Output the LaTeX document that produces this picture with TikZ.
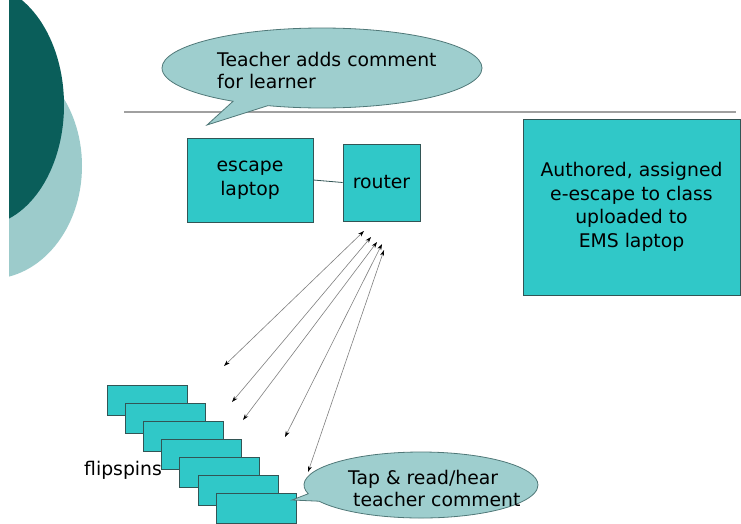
\documentclass[tikz,border=0pt]{standalone}
\usepackage{fontspec}
\setmainfont{DejaVu Sans}
\usetikzlibrary{shapes.callouts,arrows.meta}
\definecolor{darkteal}{RGB}{10,94,90}
\definecolor{lightteal}{RGB}{156,203,203}
\definecolor{boxfill}{RGB}{48,200,200}
\definecolor{boxline}{RGB}{50,85,85}
\definecolor{callfill}{RGB}{158,206,206}
\definecolor{callline}{RGB}{80,120,120}
\definecolor{rule}{RGB}{160,160,160}
\definecolor{linkgray}{RGB}{128,128,128}
\tikzset{
  box/.style={draw=boxline,fill=boxfill,line width=0.8pt,inner sep=0pt,align=center,font=\fontsize{18.8}{23.5}\selectfont},
  flip/.style={draw=boxline,fill=boxfill,line width=0.8pt,minimum width=80pt,minimum height=30pt,inner sep=0pt},
  bubble/.style={ellipse callout,draw=callline,fill=callfill,line width=0.8pt,inner sep=0pt,callout pointer arc=14},
  txt/.style={font=\fontsize{18.8}{22}\selectfont,inner sep=0pt},
  link/.style={draw=linkgray,line width=0.6pt,{Stealth[length=6pt,width=4pt,black]}-{Stealth[length=6pt,width=4pt,black]}}
}
\begin{document}
\begin{tikzpicture}[x=1pt,y=-1pt]
\useasboundingbox (0,0) rectangle (741,523);
\fill[white] (0,0) rectangle (741,523);
% decorative circles
\begin{scope}
\clip (9,0) rectangle (200,523);
\fill[lightteal] (-10,166) ellipse [x radius=92, y radius=113];
\fill[darkteal] (-20,105) ellipse [x radius=84, y radius=121];
\end{scope}
% rule
\coordinate (r1) at (124,112);
\coordinate (r2) at (736,112);
\draw[rule,line width=1.5pt] (r1) -- (r2);
% top callout
\node[bubble,minimum width=320pt,minimum height=80pt,callout absolute pointer={(207,125)}] (call1) at (322,68) {};
\node[txt,align=left,anchor=west] (call1t) at (217,70) {Teacher adds comment\\for learner};
% boxes
\node[box,minimum width=126pt,minimum height=84pt] (laptop) at (250,180) {escape\\laptop};
\node[box,minimum width=77pt,minimum height=77pt] (router) at (381.5,182.5) {router};
\node[box,minimum width=217pt,minimum height=176pt] (ems) at (631.5,207) {Authored, assigned\\e-escape to class\\uploaded to\\EMS laptop};
\draw[boxline,line width=0.8pt] (laptop.east) -- (router.west);
% flipspins
\foreach \i in {0,...,6}{
  \node[flip] (f\i) at ({147+18.2*\i},{400+18*\i}) {};
}
\node[txt,anchor=west] (fliplabel) at (84,470) {flipspins};
% arrows
\coordinate (a1) at (364,231); \coordinate (b1) at (224,366);
\coordinate (a2) at (371,237); \coordinate (b2) at (232,402);
\coordinate (a3) at (377,242); \coordinate (b3) at (243,420);
\coordinate (a4) at (382,244); \coordinate (b4) at (285,437);
\coordinate (a5) at (384,250); \coordinate (b5) at (308,472);
\foreach \k in {1,...,5}{ \draw[link] (b\k) -- (a\k); }
% bottom callout
\node[bubble,minimum width=234pt,minimum height=66pt,callout absolute pointer={(292,500)}] (call2) at (421,485) {};
\node[txt,align=left,anchor=west] (call2t) at (348,488) {Tap \& read/hear\\\hspace{5pt}teacher comment};
\end{tikzpicture}
\end{document}
